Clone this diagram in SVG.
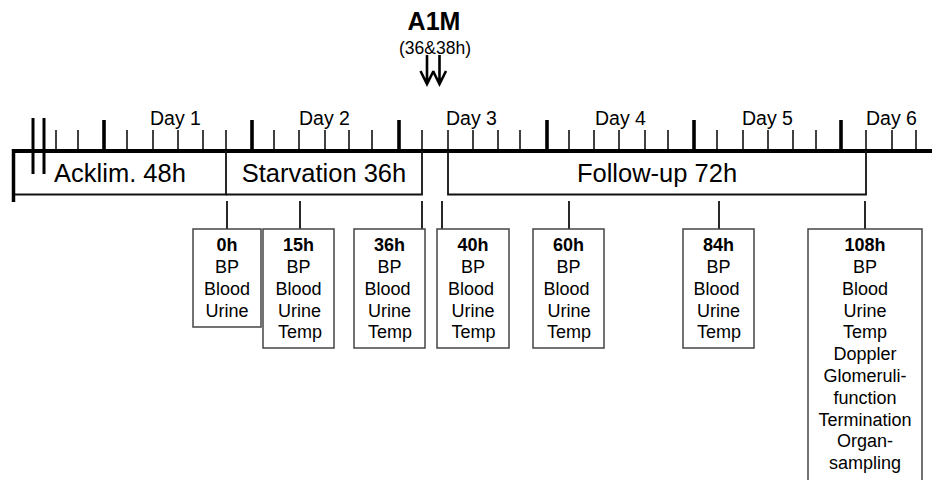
<svg xmlns="http://www.w3.org/2000/svg" width="932" height="480" viewBox="0 0 932 480">
<style>
text{font-family:"Liberation Sans",Arial,sans-serif;fill:#000}
.day{font-size:19.5px}
.phase{font-size:25.5px;text-anchor:middle}
.bx{font-size:18px;text-anchor:middle}
.b{font-weight:bold}
.minor{stroke:#111;stroke-width:1.6}
.major{stroke:#000;stroke-width:3.6}
.axis{stroke:#000;stroke-width:4;fill:none}
.pbox{fill:none;stroke:#111;stroke-width:1.8}
.conn{stroke:#111;stroke-width:1.8}
.nbox{fill:#fff;stroke:#444;stroke-width:1.5}
.arr{stroke:#000;stroke-width:2.6;fill:none}
</style>
<rect width="932" height="480" fill="#fff"/>
<g id="timeline">
<g id="ticks">
<line class="minor" x1="56" y1="130" x2="56" y2="151"/>
<line class="minor" x1="78" y1="130" x2="78" y2="151"/>
<line class="major" x1="104" y1="120" x2="104" y2="151"/>
<line class="minor" x1="127" y1="130" x2="127" y2="151"/>
<line class="minor" x1="153" y1="130" x2="153" y2="151"/>
<line class="minor" x1="178" y1="130" x2="178" y2="151"/>
<line class="minor" x1="203" y1="130" x2="203" y2="151"/>
<line class="minor" x1="226" y1="130" x2="226" y2="151"/>
<line class="major" x1="252" y1="120" x2="252" y2="151"/>
<line class="minor" x1="274" y1="130" x2="274" y2="151"/>
<line class="minor" x1="299" y1="130" x2="299" y2="151"/>
<line class="minor" x1="325" y1="130" x2="325" y2="151"/>
<line class="minor" x1="349" y1="130" x2="349" y2="151"/>
<line class="minor" x1="372" y1="130" x2="372" y2="151"/>
<line class="major" x1="399" y1="120" x2="399" y2="151"/>
<line class="minor" x1="422" y1="130" x2="422" y2="151"/>
<line class="minor" x1="448" y1="130" x2="448" y2="151"/>
<line class="minor" x1="473" y1="130" x2="473" y2="151"/>
<line class="minor" x1="498" y1="130" x2="498" y2="151"/>
<line class="minor" x1="520" y1="130" x2="520" y2="151"/>
<line class="major" x1="547" y1="120" x2="547" y2="151"/>
<line class="minor" x1="569" y1="130" x2="569" y2="151"/>
<line class="minor" x1="594" y1="130" x2="594" y2="151"/>
<line class="minor" x1="619" y1="130" x2="619" y2="151"/>
<line class="minor" x1="645" y1="130" x2="645" y2="151"/>
<line class="minor" x1="668" y1="130" x2="668" y2="151"/>
<line class="major" x1="694" y1="120" x2="694" y2="151"/>
<line class="minor" x1="717" y1="130" x2="717" y2="151"/>
<line class="minor" x1="743" y1="130" x2="743" y2="151"/>
<line class="minor" x1="768" y1="130" x2="768" y2="151"/>
<line class="minor" x1="793" y1="130" x2="793" y2="151"/>
<line class="minor" x1="816" y1="130" x2="816" y2="151"/>
<line class="major" x1="841" y1="120" x2="841" y2="151"/>
<line class="minor" x1="866" y1="130" x2="866" y2="151"/>
<line class="minor" x1="892" y1="130" x2="892" y2="151"/>
<line class="minor" x1="916" y1="130" x2="916" y2="151"/>
</g>
<g id="days">
<text class="day" x="150" y="125">Day 1</text>
<text class="day" x="299" y="125">Day 2</text>
<text class="day" x="446" y="125">Day 3</text>
<text class="day" x="595" y="125">Day 4</text>
<text class="day" x="742" y="125">Day 5</text>
<text class="day" x="866" y="125">Day 6</text>
</g>
<line class="axis" x1="12" y1="151" x2="932" y2="151"/>
<line class="axis" x1="13.5" y1="149" x2="13.5" y2="202" style="stroke-width:3.5"/>
<line class="axis" x1="33" y1="118" x2="33" y2="174" style="stroke-width:3"/>
<line class="axis" x1="44" y1="118" x2="44" y2="174" style="stroke-width:3"/>
</g>
<g id="acklim">
<path class="pbox" d="M15 194.5H226V151"/>
<text class="phase" x="120" y="182">Acklim. 48h</text>
</g>
<g id="starvation">
<path class="pbox" d="M226 194.5H422V151"/>
<text class="phase" x="324" y="182">Starvation 36h</text>
</g>
<g id="followup">
<path class="pbox" d="M448 151V194.5H866V151"/>
<text class="phase" x="657" y="182">Follow-up 72h</text>
</g>
<g id="a1m">
<text x="434" y="30" style="font-size:25px;font-weight:bold;text-anchor:middle">A1M</text>
<text x="435" y="54" style="font-size:17.5px;text-anchor:middle">(36&amp;38h)</text>
</g>
<g id="connectors">
<path class="arr" d="M427 55V84M420.5 71L427 84L433.5 71"/>
<path class="arr" d="M439.5 55V84M433 71L439.5 84L446 71"/>
<line class="conn" x1="227" y1="201" x2="227" y2="229"/>
<line class="conn" x1="300" y1="201" x2="300" y2="229"/>
<line class="conn" x1="422" y1="201" x2="422" y2="229"/>
<line class="conn" x1="442" y1="201" x2="442" y2="229"/>
<line class="conn" x1="569" y1="201" x2="569" y2="229"/>
<line class="conn" x1="719" y1="201" x2="719" y2="229"/>
<line class="conn" x1="865" y1="201" x2="865" y2="229"/>
</g>
<g id="n0h">
<rect class="nbox" x="193" y="229" width="68" height="98"/>
<text class="bx b" x="227" y="251">0h</text>
<text class="bx" x="227" y="273">BP</text>
<text class="bx" x="227" y="295">Blood</text>
<text class="bx" x="227" y="317">Urine</text>
</g>
<g id="n15h">
<rect class="nbox" x="263" y="229" width="71" height="119"/>
<text class="bx b" x="298.5" y="251">15h</text>
<text class="bx" x="298.5" y="273">BP</text>
<text class="bx" x="298.5" y="295">Blood</text>
<text class="bx" x="299.5" y="317">Urine</text>
<text class="bx" x="300" y="338">Temp</text>
</g>
<g id="n36h">
<rect class="nbox" x="354" y="229" width="71" height="119"/>
<text class="bx b" x="389.5" y="251">36h</text>
<text class="bx" x="389.5" y="273">BP</text>
<text class="bx" x="387.5" y="295">Blood</text>
<text class="bx" x="389.5" y="317">Urine</text>
<text class="bx" x="390" y="338">Temp</text>
</g>
<g id="n40h">
<rect class="nbox" x="437" y="229" width="72" height="119"/>
<text class="bx b" x="473" y="251">40h</text>
<text class="bx" x="473" y="273">BP</text>
<text class="bx" x="471" y="295">Blood</text>
<text class="bx" x="473" y="317">Urine</text>
<text class="bx" x="473.5" y="338">Temp</text>
</g>
<g id="n60h">
<rect class="nbox" x="533" y="229" width="71" height="119"/>
<text class="bx b" x="568.5" y="251">60h</text>
<text class="bx" x="568.5" y="273">BP</text>
<text class="bx" x="566.5" y="295">Blood</text>
<text class="bx" x="569" y="317">Urine</text>
<text class="bx" x="569" y="338">Temp</text>
</g>
<g id="n84h">
<rect class="nbox" x="683" y="229" width="71" height="119"/>
<text class="bx b" x="718.5" y="251">84h</text>
<text class="bx" x="718.5" y="273">BP</text>
<text class="bx" x="716.5" y="295">Blood</text>
<text class="bx" x="718.5" y="317">Urine</text>
<text class="bx" x="719" y="338">Temp</text>
</g>
<g id="n108h">
<rect class="nbox" x="808" y="229" width="114" height="260"/>
<text class="bx b" x="865" y="251">108h</text>
<text class="bx" x="865" y="273">BP</text>
<text class="bx" x="865" y="295">Blood</text>
<text class="bx" x="865" y="317">Urine</text>
<text class="bx" x="865" y="338">Temp</text>
<text class="bx" x="865" y="360">Doppler</text>
<text class="bx" x="865" y="382">Glomeruli-</text>
<text class="bx" x="865" y="404">function</text>
<text class="bx" x="865" y="426">Termination</text>
<text class="bx" x="865" y="447">Organ-</text>
<text class="bx" x="865" y="469">sampling</text>
</g>
</svg>
